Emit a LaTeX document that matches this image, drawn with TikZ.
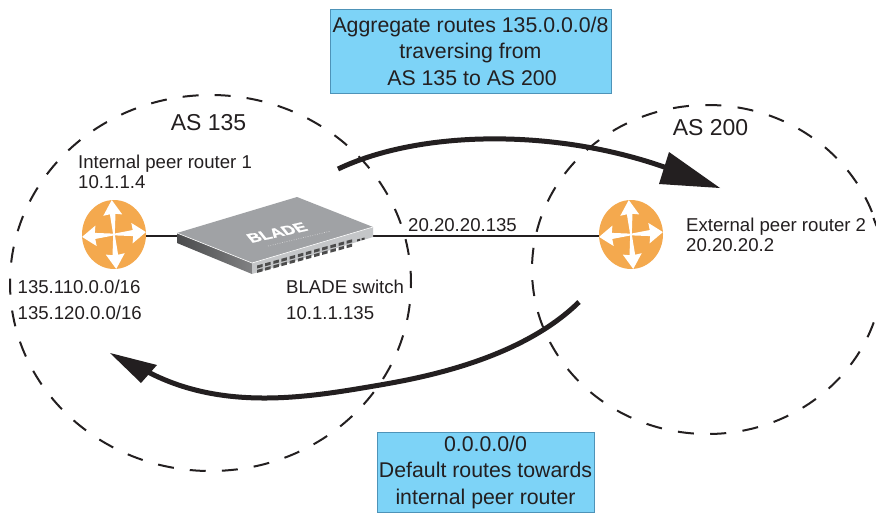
\documentclass[tikz,border=0pt]{standalone}
\usepackage{fontspec}
\setmainfont{Liberation Sans}
\newfontfamily\logofont[FakeBold=1.2]{Liberation Sans Bold}
\usetikzlibrary{shapes.geometric}
\definecolor{boxblue}{HTML}{7DD3F7}
\definecolor{boxedge}{HTML}{4E93B8}
\definecolor{routerorange}{HTML}{F4A94E}
\definecolor{swtop}{HTML}{A0A2A5}
\definecolor{swleft}{HTML}{6A6B6D}
\definecolor{swfront}{HTML}{C4C6C8}
\definecolor{inkblack}{HTML}{231F20}
\tikzset{
  infobox/.style={draw=boxedge,line width=0.8pt,fill=boxblue,align=center,inner sep=0pt,font=\fontsize{21.3}{26.6}\selectfont,text=inkblack},
  lab/.style={anchor=west,inner sep=0pt,align=left,font=\fontsize{18.6}{20}\selectfont,text=inkblack},
  aslab/.style={inner sep=0pt,font=\fontsize{23}{24}\selectfont,text=inkblack},
  routernode/.style={ellipse,fill=routerorange,inner sep=0pt,minimum width=64pt,minimum height=69pt},
  asringa/.style={draw=inkblack,line width=2pt,dash pattern=on 16pt off 16.1pt,dash phase=11pt},
  asringb/.style={draw=inkblack,line width=2pt,dash pattern=on 16pt off 16.4pt,dash phase=10.8pt},
  link/.style={draw=inkblack,line width=2pt},
  bigflow/.style={draw=inkblack,line width=5pt},
  flowhead/.style={fill=inkblack,draw=none}
}
\newcommand{\routerarrows}[1]{%
  \foreach \ang in {0,90,180,270}{
    \begin{scope}[shift={(#1)},yscale=1.08,rotate=\ang+4]
      \fill[white] (0,-.8) -- (19,-2.8) -- (18,-9.5) -- (32,0) -- (18,9.5) -- (19,2.8) -- (0,.8) -- cycle;
    \end{scope}
  }%
}
\begin{document}
\begin{tikzpicture}[x=1pt,y=-1pt]
\useasboundingbox (0,0) rectangle (876,512);
\fill[white] (0,0) rectangle (876,512);
\begin{scope}
\clip (0,0) rectangle (876,512);
\draw[asringa] (210.5,283) ellipse [x radius=200.5,y radius=188];
\draw[asringb] (707.5,269.5) ellipse [x radius=175.5,y radius=164.5];
\draw[inkblack,line width=2pt] (873.5,218) -- (876.5,226);
\end{scope}
% boxes
\node[infobox,minimum width=281pt,minimum height=84pt] (topbox) at (470.5,51) {\raisebox{-3pt}{\parbox{281pt}{\centering Aggregate routes 135.0.0.0/8\\traversing from\\\hspace*{3pt}AS 135 to AS 200}}};
\node[infobox,minimum width=217pt,minimum height=80pt,anchor=north] (botbox) at (485.5,432) {\raisebox{-2.5pt}{\parbox{217pt}{\centering 0.0.0.0/0\\Default routes towards\\internal peer router}}};
% routers
\node[routernode] (r1) at (114,234.5) {};
\node[routernode] (r2) at (631,234.5) {};
\routerarrows{114,234.5}
\routerarrows{631,234.5}
% switch
\coordinate (swL) at (177,236);
\coordinate (swR) at (373,236);
\draw[link] (r1.east |- swL) -- (swL);
\draw[link] (swR) -- (r2.west |- swR);
\shade[left color=swleft!70!black,right color=swleft!85] (177,233) -- (252,263) -- (252,274) -- (177,243) -- cycle;
\fill[swfront] (252,263) -- (373,227) -- (373,237) -- (252,274) -- cycle;
\fill[swtop] (177,233) -- (297,197) -- (373,227) -- (252,263) -- cycle;
\draw[white,line width=0.6pt] (177,233) -- (252,263) -- (373,227);
\foreach \i in {0,...,11}{
  \foreach \r in {0,1}{
    \fill[black!70] ({257+\i*8.15},{265.5-\i*2.25+\r*4.4}) -- ++(5.5,-1.5) -- ++(0,3) -- ++(-5.5,1.5) -- cycle;
  }
}
\fill[black!75] (357,239.5) -- ++(3,-.8) -- ++(0,2) -- ++(-3,.8) -- cycle;
\fill[black!75] (361.5,238.3) -- ++(3,-.8) -- ++(0,2) -- ++(-3,.8) -- cycle;
\node[inner sep=0pt,text=white,font=\fontsize{17}{16}\logofont,rotate=12.5,xslant=-0.5,yscale=0.8] (bladelogo) at (277,232.5) {BLADE};
\draw[white!85!black,line width=0.6pt,dash pattern=on .8pt off 1.6pt] (268,246) -- (331,231);
% labels
\node[aslab] (as135) at (208.5,122.5) {AS 135};
\node[aslab] (as200) at (710.5,128) {AS 200};
\node[lab] (peer1) at (78,172) {Internal peer router 1\\10.1.1.4};
\node[lab] (nets) at (17.5,300) {135.110.0.0/16\\[6pt]135.120.0.0/16};
\node[lab] (swlab) at (286,300) {BLADE switch\\[6pt]10.1.1.135};
\node[lab] (swip) at (408,225) {20.20.20.135};
\node[lab] (peer2) at (686,235) {External peer router 2\\20.20.20.2};
% flows
\coordinate (f1s) at (338,169);
\coordinate (f1e) at (667,168);
\draw[bigflow] (f1s) .. controls (420,130) and (555,128) .. (f1e);
\fill[flowhead] (720,188) -- (659,184) -- (669,152) -- cycle;
\coordinate (f2s) at (579,302);
\coordinate (f2m) at (380,385);
\coordinate (f2e) at (148,372);
\draw[bigflow] (f2s) .. controls (520,360) and (420,378) .. (f2m) .. controls (310,397) and (225,412) .. (f2e);
\fill[flowhead] (110,353) -- (157,365) -- (141,383) -- cycle;
\end{tikzpicture}
\end{document}
